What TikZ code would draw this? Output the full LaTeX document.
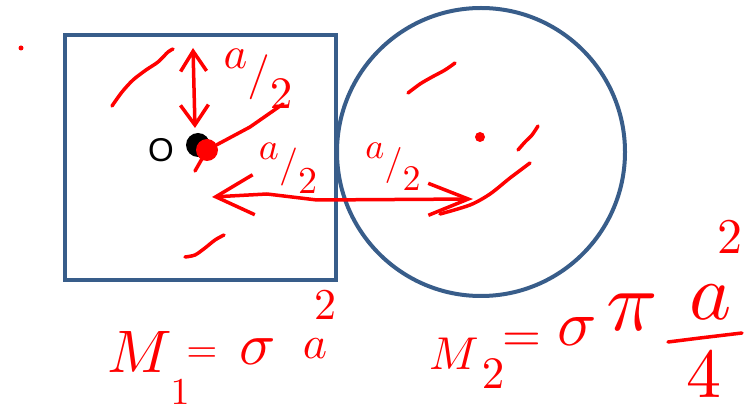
\documentclass[tikz,border=0pt]{standalone}
\usepackage{fontspec}
\newfontfamily\labelfont{Liberation Sans}
\usetikzlibrary{arrows.meta}
\definecolor{boxblue}{HTML}{385D8A}

\begin{document}
\begin{tikzpicture}
[x=1pt,y=-1pt,outline/.style={draw=boxblue,line width=4pt},pen/.style={draw=red,line width=3.5pt,line cap=round,line join=round},ink/.style={text=red,inner sep=0pt},spot/.style={circle,inner sep=0pt,minimum size=#1},]
\useasboundingbox (0,0) rectangle (747,411);
\draw[outline] (65,35) rectangle (336,280);
\draw[outline] (481,152) circle[radius=144];
\node[scale=3.3,inner sep=0pt] (olabel) at (161,150) {\labelfont O};
\node[spot=24pt,fill=black] (o) at (198,145) {};
\node[spot=22pt,fill=red] (ored) at (207,150) {};
\node[spot=10pt,fill=red] (cdot) at (480,137) {};
\node[spot=5pt,fill=red] (mark) at (21,48) {};
\node[ink,scale=4.5] (half1) at (258,79) {\raisebox{.45em}{$a$}$/$\raisebox{-.45em}{$2$}};
\node[ink,scale=3.8] (half2) at (288,168) {\raisebox{.45em}{$a$}$/$\raisebox{-.45em}{$2$}};
\node[ink,scale=3.6] (half3) at (393,167) {\raisebox{.45em}{$a$}$/$\raisebox{-.45em}{$2$}};
\coordinate (vtop) at (193,48);
\coordinate (vbot) at (195,128);
\coordinate (hleft) at (212,197);
\coordinate (hright) at (473,199);
\draw[pen,{Straight Barb[length=20pt,width=26pt]}-{Straight Barb[length=20pt,width=28pt]}] (vtop) -- (vbot);
\draw[pen,{Straight Barb[length=38pt,width=40pt]}-{Straight Barb[length=40pt,width=32pt]}] (hleft) -- (267,194) -- (317,200) -- (hright);
\draw[pen] (ored) -- (250,127) -- (283,104);
\draw[pen] (ored.center) -- (195,171);
\draw[pen] plot[smooth] coordinates {(112,106) (122,92) (133,80) (146,70) (158,62) (168,52) (173,49)};
\draw[pen] plot[smooth] coordinates {(185,257) (195,255) (205,248) (215,240) (224,235)};
\draw[pen] plot[smooth] coordinates {(408,93) (420,84) (432,77) (445,70) (455,63)};
\draw[pen] plot[smooth] coordinates {(518,150) (525,142) (532,135) (538,126)};
\draw[pen] plot[smooth] coordinates {(440,214) (470,205) (490,194) (510,178) (530,163)};
\node[ink,scale=6] (m1) at (140,352) {$M$};
\node[ink,scale=3.8] (m1sub) at (180,392) {$1$};
\node[ink,scale=4] (m1eq) at (202,355) {$=$};
\node[ink,scale=6] (m1sig) at (258,352) {$\sigma$};
\node[ink,scale=4.6] (m1a) at (315,349) {$a$};
\node[ink,scale=4.4] (m1sq) at (325,305) {$2$};
\node[ink,scale=4.6] (m2) at (454,354) {$M$};
\node[ink,scale=4.5] (m2sub) at (493,374) {$2$};
\node[ink,scale=5] (m2eq) at (522,342) {$=$};
\node[ink,scale=6.5] (m2sig) at (577,332) {$\sigma$};
\node[ink,scale=8.5] (m2pi) at (632,312) {$\pi$};
\node[ink,scale=8] (m2num) at (711,302) {$a$};
\node[ink,scale=7] (m2den) at (704,375) {$4$};
\node[ink,scale=5] (m2sq) at (730,237) {$2$};
\draw[pen] (668,342) -- (700,338) -- (742,333);
\end{tikzpicture}
\end{document}
